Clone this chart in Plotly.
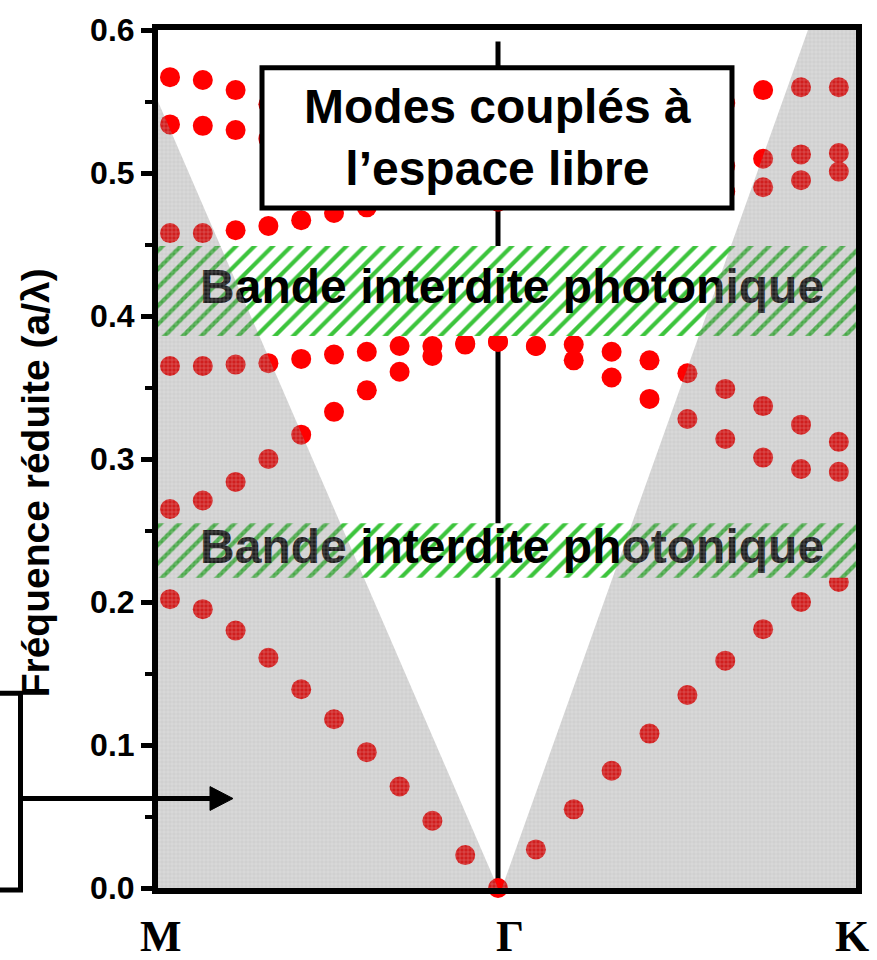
import plotly.graph_objects as go

# ---- k-path coordinate: M = 0, Γ = 1, Γ→K continues with the ΓK step ----
k_mg = [0.0, 0.1, 0.2, 0.3, 0.4, 0.5, 0.6, 0.7, 0.8, 0.9, 1.0]
k_gk = [1.1155, 1.2309, 1.3464, 1.4619, 1.5774, 1.6928, 1.8083, 1.9238, 2.0392]

# ---- reduced frequency a/λ along M–Γ ----
mg_band1 = [0.202, 0.195, 0.180, 0.161, 0.139, 0.118, 0.095, 0.071, 0.047, 0.023, 0.000]
mg_band2 = [0.265, 0.271, 0.284, 0.300, 0.317, 0.333, 0.348, 0.361, 0.372, 0.380, 0.382]
mg_band3 = [0.365, 0.365, 0.366, 0.367, 0.370, 0.373, 0.375, 0.379, 0.379, 0.381, 0.382]
k_mg_band4 = [0.0, 0.1, 0.2, 0.3, 0.4, 0.5, 0.6, 1.0]
mg_band4 = [0.458, 0.458, 0.460, 0.463, 0.467, 0.472, 0.476, 0.480]
k_mg_upper = [0.0, 0.1, 0.2, 0.3]
mg_band5 = [0.534, 0.533, 0.530, 0.524]
mg_band6 = [0.567, 0.565, 0.558, 0.548]

# ---- reduced frequency a/λ along Γ–K ----
gk_band1 = [0.027, 0.055, 0.082, 0.108, 0.135, 0.159, 0.181, 0.200, 0.214]
gk_band2 = [0.379, 0.380, 0.375, 0.369, 0.360, 0.349, 0.337, 0.324, 0.312]
gk_band3 = [0.379, 0.369, 0.357, 0.342, 0.328, 0.314, 0.301, 0.293, 0.291]
k_gk_upper = [1.6928, 1.8083, 1.9238, 2.0392]
gk_band4 = [0.487, 0.490, 0.495, 0.501]
gk_band5 = [0.505, 0.510, 0.513, 0.514]
gk_band6 = [0.549, 0.558, 0.560, 0.560]

# ---- photonic band gaps (a/λ): lower edge, upper edge ----
gap_bottom = [0.217, 0.386]
gap_top = [0.255, 0.449]
gap_label = "Bande interdite photonique"

# ---- light cone (region above the light line is free-space coupled) ----
X_MIN, X_MAX = -0.0366, 2.0915
cone_left_k = [X_MIN, 1.0, X_MIN]
cone_left_f = [0.55, 0.0, 0.0]
cone_right_k = [1.012, 1.945, X_MAX, X_MAX]
cone_right_f = [0.0, 0.6, 0.6, 0.0]

sym_labels = ["M", "Γ", "K"]
y_ticks = [0.0, 0.1, 0.2, 0.3, 0.4, 0.5, 0.6]

# layout geometry (pixels)
W, H = 877, 960
ML, MR, MT, MB = 158, 21, 25, 72
PW, PH = W - ML - MR, H - MT - MB


def px(xp):
    return (xp - ML) / PW


def py(yp):
    return (H - MB - yp) / PH


FONT = "Liberation Sans, Arial, sans-serif"
RED = "#ff0000"

fig = go.Figure()

# Γ vertical line
fig.add_trace(go.Scatter(x=[1.0, 1.0], y=[0.0, 0.592], mode="lines",
                         line=dict(color="black", width=5), hoverinfo="skip"))

# computed modes
mode_sets = [
    (k_mg, mg_band1), (k_mg, mg_band2), (k_mg, mg_band3),
    (k_mg_band4, mg_band4), (k_mg_upper, mg_band5), (k_mg_upper, mg_band6),
    (k_gk, gk_band1), (k_gk, gk_band2), (k_gk, gk_band3),
    (k_gk_upper, gk_band4), (k_gk_upper, gk_band5), (k_gk_upper, gk_band6),
]
for kx, fy in mode_sets:
    fig.add_trace(go.Scatter(x=kx, y=fy, mode="markers",
                             marker=dict(color=RED, size=20, line=dict(width=0)),
                             cliponaxis=False))

# hatched band-gap stripes
for lo, hi in zip(gap_bottom, gap_top):
    fig.add_trace(go.Scatter(
        x=[X_MIN, X_MAX, X_MAX, X_MIN, X_MIN], y=[lo, lo, hi, hi, lo],
        mode="lines", line=dict(width=0), fill="toself", fillcolor="white",
        fillpattern=dict(shape="/", fgcolor="#3cc43c", bgcolor="white",
                         size=13, solidity=0.32, fillmode="replace"),
        hoverinfo="skip"))
    fig.add_trace(go.Scatter(
        x=[1.043], y=[(lo + hi) / 2], mode="text", text=[gap_label],
        textposition="middle center",
        textfont=dict(family=FONT, size=48, color="black", weight="bold"),
        cliponaxis=False, hoverinfo="skip"))

# light cone shading (fine grey mesh)
for ck, cf in [(cone_left_k, cone_left_f), (cone_right_k, cone_right_f)]:
    fig.add_trace(go.Scatter(
        x=ck, y=cf, mode="lines", line=dict(width=0), fill="toself",
        fillcolor="rgba(100,100,100,0.30)",
        fillpattern=dict(shape="+", fgcolor="white", fgopacity=0.35,
                         bgcolor="rgba(100,100,100,0.30)", size=4, solidity=0.25,
                         fillmode="overlay"),
        hoverinfo="skip"))

shapes = [
    # label box
    dict(type="rect", xref="x", yref="y", x0=0.2805, x1=1.7134, y0=0.4756, y1=0.5736,
         line=dict(color="black", width=5), fillcolor="white", layer="above"),
    # bracket on the left
    dict(type="path", xref="paper", yref="paper",
         path=f"M {px(0)},{py(692)} L {px(20.5)},{py(692)} L {px(20.5)},{py(890)} L {px(0)},{py(890)}",
         line=dict(color="black", width=5), layer="above"),
    dict(type="line", xref="paper", yref="paper",
         x0=px(20.5), x1=px(214), y0=py(798), y1=py(798),
         line=dict(color="black", width=5), layer="above"),
    dict(type="path", xref="paper", yref="paper",
         path=f"M {px(210)},{py(786)} L {px(233)},{py(798)} L {px(210)},{py(810)} Z",
         line=dict(color="black", width=1), fillcolor="black", layer="above"),
]

annotations = [
    dict(text="Modes couplés à<br>l’espace libre", x=0.997, y=0.5246, xref="x", yref="y",
         showarrow=False, xanchor="center", yanchor="middle",
         font=dict(family=FONT, size=48, color="black", weight="bold")),
    dict(text="Fréquence réduite (a/λ)", textangle=-90, x=px(35), y=py(481),
         xref="paper", yref="paper", showarrow=False, xanchor="center", yanchor="middle",
         font=dict(family=FONT, size=39, color="black", weight="bold")),
]
for lab, xp in zip(sym_labels, [161, 510, 852]):
    annotations.append(dict(text=lab, x=px(xp), y=py(937), xref="paper", yref="paper",
                            showarrow=False, xanchor="center", yanchor="middle",
                            font=dict(family="Liberation Serif, Times New Roman, serif",
                                      size=44, color="black", weight="bold")))

fig.update_layout(
    width=W, height=H, margin=dict(l=ML, r=MR, t=MT, b=MB),
    paper_bgcolor="white", plot_bgcolor="white", showlegend=False,
    shapes=shapes, annotations=annotations,
    xaxis=dict(range=[X_MIN, X_MAX], showgrid=False, zeroline=False,
               showticklabels=False, ticks="", showline=True, linecolor="black",
               linewidth=6, mirror=True),
    yaxis=dict(range=[0, 0.6], showgrid=False, zeroline=False,
               tickvals=y_ticks, tickformat=".1f", ticks="outside", ticklen=11,
               tickwidth=5, tickcolor="black", showline=True, linecolor="black",
               linewidth=6, mirror=True,
               tickfont=dict(family=FONT, size=32, color="black", weight="bold"),
               minor=dict(dtick=0.05, ticks="outside", ticklen=7, tickwidth=4,
                          tickcolor="black")),
)

fig.write_html("out.html")
